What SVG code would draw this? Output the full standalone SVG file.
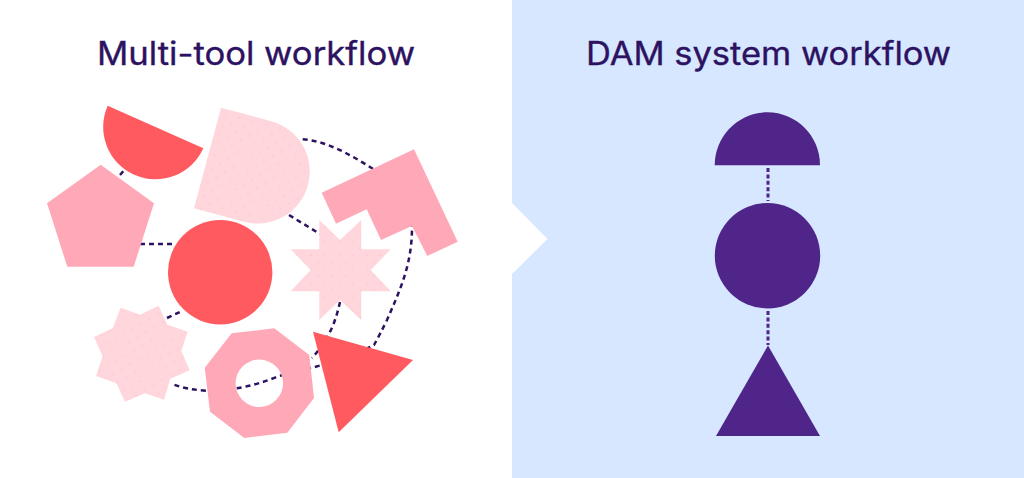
<svg xmlns="http://www.w3.org/2000/svg" width="1024" height="478" viewBox="0 0 1024 478">
<style>
.t{font-family:"Inter","Liberation Sans",sans-serif;font-size:32px;fill:#2c1261;font-weight:400;stroke:#2c1261;stroke-width:.35}
.d{fill:none;stroke:#2c1261;stroke-width:2.5;stroke-dasharray:5 4}
.v{fill:none;stroke:#4f2589;stroke-width:3;stroke-dasharray:4 2.4}
.p{fill:#ffa9b8}.r{fill:#ff5a5f}.l{fill:url(#dots)}.k{fill:url(#dots2)}.u{fill:#4f2589}
</style>
<defs>
<pattern id="dots" width="14" height="14" patternUnits="userSpaceOnUse">
<rect width="14" height="14" fill="#ffd6dc"/>
<circle cx="3" cy="3" r=".6" fill="#f9b0be"/>
<circle cx="10" cy="10" r=".6" fill="#f9b0be"/>
</pattern>
<pattern id="dots2" width="14" height="14" patternUnits="userSpaceOnUse" patternTransform="rotate(15)">
<rect width="14" height="14" fill="#ffd6dc"/>
<circle cx="3" cy="3" r=".6" fill="#f9b0be"/>
<circle cx="10" cy="10" r=".6" fill="#f9b0be"/>
</pattern>
</defs>
<rect width="1024" height="478" fill="#fff"/>
<path id="panel" d="M512 0H1024V478H512V274L547.5 239L512 203Z" fill="#d6e7ff"/>
<text class="t" x="97" y="64.5" textLength="318" lengthAdjust="spacingAndGlyphs">Multi-tool workflow</text>
<text class="t" x="586" y="64.5" textLength="365" lengthAdjust="spacingAndGlyphs">DAM system workflow</text>
<g id="connectors">
<path class="d" d="M120 175L126 168"/>
<path class="d" d="M140 244H176"/>
<path class="d" d="M302.7 139.3C327 141 351 155 372 168.3C395 185 412 205 412 227C412 265 400 290 387 320C382 330 378 338 374 345C345 360 312 368 279 376C265 382 250 386 238.7 388C227 390 216 391 206 390.7C194 390 183 388 172.7 384.3"/>
<path class="d" d="M289 215L320 234"/>
<path class="d" d="M340 302C336 320 330 338 312 358"/>
<path class="d" d="M167 318L182 311"/>
<path class="v" d="M768 168V201"/>
<path class="v" d="M768 311V345"/>
</g>
<g id="semi-red"><path class="r" d="M107.7 105.7L203.3 148.3A52.3 52.3 0 0 1 107.7 105.7Z"/></g>
<g id="pentagon"><path class="p" d="M100.7 164.7L154 203.3L133.7 266.7H67.3L47 203.3Z"/></g>
<g id="d-shape"><path class="k" d="M221 107.7L271.2 121.2A52 52 0 0 1 244.2 221.8L194 208.3Z"/></g>
<g id="l-shape"><path class="p" d="M321.7 192.7L414 149.3L457.7 241.7L427.3 256L412 226L381 240L366.7 209.3L336 223.7Z"/></g>
<g id="star-a"><path class="l" d="M319.3 220L340 240L361.3 220V249.3H390.7L370.7 270L390.7 291.3H361.3V320L340 300L319.3 320V291.3H290.7L310.7 270L290.7 249.3H319.3Z"/></g>
<g id="circle-red"><circle class="r" cx="220.2" cy="272.2" r="52.2"/></g>
<g id="star-b"><path class="k" d="M120.7 307.7L140 314.7L158.7 305.7L167.3 324.7L187.7 331.7L181.3 351L189.7 370.3L170.3 378.7L164 399.7L144.7 393.3L125 401.7L116.3 383.3L96 376L102.7 356.3L94 337L112.7 328.3Z"/></g>
<g id="octagon"><path class="p" fill-rule="evenodd" d="M231.7 333.3L274.3 328.3L309.3 355L314 398L287.3 432.7L244.3 438L210 411.7L204.7 367.7ZM259.3 359.6A23.7 23.7 0 1 0 259.3 407A23.7 23.7 0 1 0 259.3 359.6Z"/></g>
<g id="triangle-red"><path class="r" d="M313 331.7L413 360L338.7 432.3Z"/></g>
<g id="semi-purple"><path class="u" d="M714.7 165.3C714.7 136 738.3 112.3 767.4 112.3C796.4 112.3 820 136 820 165.3Z"/></g>
<g id="circle-purple"><circle class="u" cx="767.5" cy="255.7" r="52.7"/></g>
<g id="triangle-purple"><path class="u" d="M768 345.5L820 436H716Z"/></g>
</svg>
